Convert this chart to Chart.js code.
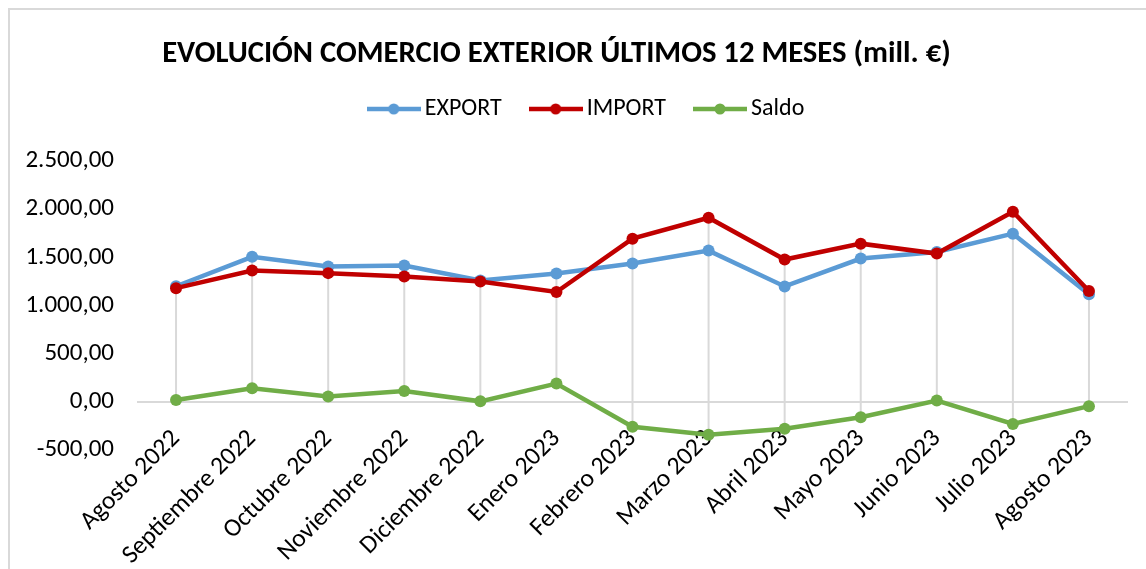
<!DOCTYPE html>
<html lang="es">
<head>
<meta charset="utf-8">
<title>Evolución comercio exterior</title>
<script src="https://cdn.jsdelivr.net/npm/chart.js@4/dist/chart.umd.min.js"></script>
<style>
  html, body { margin: 0; padding: 0; background: #fff; overflow: hidden; }
  #frame {
    position: absolute; left: 8px; top: 8px; width: 1160px; height: 580px;
    border-left: 2px solid #d9d9d9; border-top: 2px solid #d9d9d9;
  }
  #chart { position: absolute; left: 0; top: 0; }
</style>
</head>
<body>
<div id="frame">
  <canvas id="chart" width="1136" height="559"></canvas>
</div>
<script>
  // months shown on the x axis
  const months = [
    'Agosto 2022', 'Septiembre 2022', 'Octubre 2022', 'Noviembre 2022',
    'Diciembre 2022', 'Enero 2023', 'Febrero 2023', 'Marzo 2023',
    'Abril 2023', 'Mayo 2023', 'Junio 2023', 'Julio 2023', 'Agosto 2023'
  ];

  // values in millions of euros
  const exportVals = [1200, 1505, 1405, 1415, 1260, 1333, 1436, 1570, 1198, 1487, 1555, 1746, 1116];
  const importVals = [1180, 1364, 1336, 1302, 1250, 1140, 1694, 1911, 1477, 1642, 1539, 1973, 1150];
  const saldoVals = [20, 141, 55, 113, 5, 190, -258, -341, -279, -160, 14, -230, -45];

  const yTicks = [-500, 0, 500, 1000, 1500, 2000, 2500];

  const FONT = "Carlito, Lato, 'Open Sans', sans-serif";

  // 2500 -> "2.500,00"
  const fmt = (v) => {
    const neg = v < 0;
    const s = Math.abs(v).toFixed(2).split('.');
    const int = s[0].replace(/\B(?=(\d{3})+(?!\d))/g, '.');
    return (neg ? '-' : '') + int + ',' + s[1];
  };

  // little line + dot icon for the legend, like Excel's
  const legendIcon = (color) => {
    const c = document.createElement('canvas');
    c.width = 54;
    c.height = 12;
    const g = c.getContext('2d');
    g.strokeStyle = color;
    g.lineWidth = 4.5;
    g.beginPath();
    g.moveTo(0, 6);
    g.lineTo(54, 6);
    g.stroke();
    g.fillStyle = color;
    g.beginPath();
    g.arc(27, 6, 5.5, 0, Math.PI * 2);
    g.fill();
    return c;
  };

  // grey high-low lines joining the series at each month
  const highLowLines = {
    id: 'highLowLines',
    beforeDatasetsDraw(chart) {
      const { ctx, scales: { x, y } } = chart;
      ctx.save();
      ctx.strokeStyle = '#d9d9d9';
      ctx.lineWidth = 2;
      months.forEach((_, i) => {
        const vals = chart.data.datasets.map((d) => d.data[i]);
        const px = x.getPixelForValue(i);
        ctx.beginPath();
        ctx.moveTo(px, y.getPixelForValue(Math.max(...vals)));
        ctx.lineTo(px, y.getPixelForValue(Math.min(...vals)));
        ctx.stroke();
      });
      ctx.restore();
    }
  };

  // Excel centres title and legend a bit differently
  const nudge = {
    id: 'nudge',
    afterLayout(chart) {
      chart.titleBlock.left -= 12;
      chart.titleBlock.right -= 12;
      chart.legend.left += 21;
      chart.legend.right += 21;
    }
  };

  const series = (label, data, color, order) => ({
    label,
    data,
    borderColor: color,
    backgroundColor: color,
    borderWidth: 4.5,
    pointRadius: 6,
    pointHoverRadius: 6,
    pointBorderWidth: 0,
    tension: 0,
    order
  });

  new Chart(document.getElementById('chart'), {
    type: 'line',
    data: {
      labels: months,
      datasets: [
        series('EXPORT', exportVals, '#5b9bd5', 3),
        series('IMPORT', importVals, '#c00000', 2),
        series('Saldo', saldoVals, '#70ad47', 1)
      ]
    },
    options: {
      responsive: false,
      animation: false,
      layout: { padding: { left: 0, right: 19, top: 0, bottom: 119 } },
      plugins: {
        tooltip: { enabled: false },
        title: {
          display: true,
          text: 'EVOLUCIÓN COMERCIO EXTERIOR ÚLTIMOS 12 MESES (mill. €)',
          color: '#000',
          font: { family: FONT, size: 30.7, weight: 'bold', lineHeight: 1 },
          padding: { top: 29, bottom: -7.7 }
        },
        // empty block used as a gap between the legend and the plot
        subtitle: {
          display: true,
          text: '',
          weight: 500,
          font: { size: 10, lineHeight: 1 },
          padding: { top: 20, bottom: 0 }
        },
        legend: {
          labels: {
            usePointStyle: true,
            pointStyleWidth: 38,
            padding: 35,
            color: '#000',
            font: { family: FONT, size: 24 },
            generateLabels: (chart) => chart.data.datasets.map((ds, i) => ({
              text: ds.label,
              pointStyle: legendIcon(ds.borderColor),
              fillStyle: ds.borderColor,
              strokeStyle: ds.borderColor,
              lineWidth: 0,
              hidden: false,
              datasetIndex: i,
              fontColor: '#000'
            }))
          }
        }
      },
      scales: {
        x: {
          position: { y: 0 },
          offset: true,
          grid: { display: false },
          border: { color: '#d9d9d9', width: 2 },
          ticks: {
            color: '#000',
            font: { family: FONT, size: 25.5 },
            minRotation: 45,
            maxRotation: 45,
            autoSkip: false,
            padding: 14
          }
        },
        y: {
          min: -500,
          max: 2500,
          afterFit: (scale) => { scale.width = 128; },
          afterBuildTicks: (scale) => { scale.ticks = yTicks.map((v) => ({ value: v })); },
          grid: { display: false },
          border: { display: false },
          ticks: {
            color: '#000',
            font: { family: FONT, size: 25 },
            padding: 16,
            callback: (v) => fmt(v)
          }
        }
      }
    },
    plugins: [highLowLines, nudge]
  });
</script>
</body>
</html>
